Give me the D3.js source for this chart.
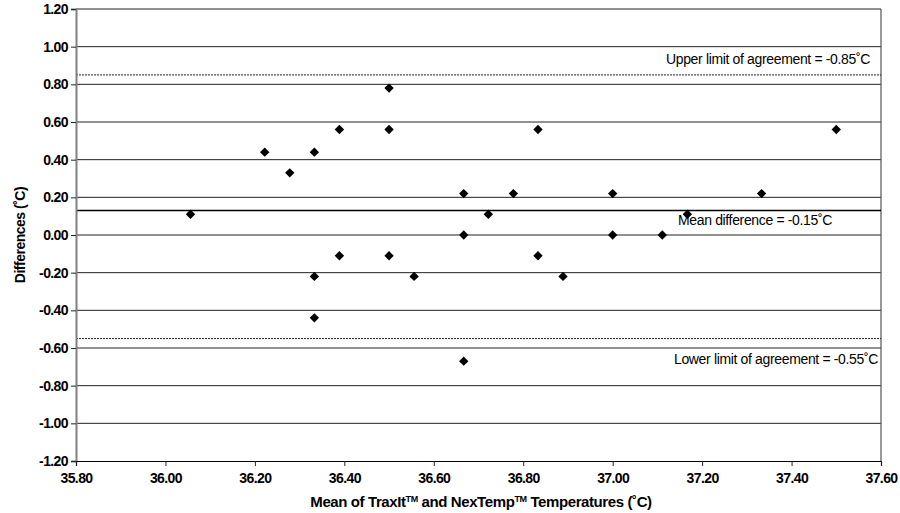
<!DOCTYPE html>
<html>
<head>
<meta charset="utf-8">
<script src="https://cdn.jsdelivr.net/npm/d3@7"></script>
<style>
  body { margin: 0; background: #fff; }
  text { font-family: "Liberation Sans", Arial, sans-serif; fill: #000; }
</style>
</head>
<body>
<div id="container"></div>
<script>
/* data */
const meanTemps = [36.056, 36.222, 36.278, 36.333, 36.333, 36.333, 36.389, 36.389, 36.5, 36.5, 36.5,
  36.556, 36.667, 36.667, 36.667, 36.722, 36.778, 36.833, 36.833, 36.889, 37.0, 37.0, 37.111,
  37.167, 37.333, 37.5];
const differences = [0.11, 0.44, 0.33, 0.44, -0.22, -0.44, 0.56, -0.11, 0.78, 0.56, -0.11,
  -0.22, 0.22, 0.0, -0.67, 0.11, 0.22, 0.56, -0.11, -0.22, 0.22, 0.0, 0.0,
  0.11, 0.22, 0.56];
const xTicks = [35.8, 36.0, 36.2, 36.4, 36.6, 36.8, 37.0, 37.2, 37.4, 37.6];
const yTicks = [1.2, 1.0, 0.8, 0.6, 0.4, 0.2, 0.0, -0.2, -0.4, -0.6, -0.8, -1.0, -1.2];
const upperLimit = 0.85, meanDiff = 0.13, lowerLimit = -0.55;
const upperLabel = 'Upper limit of agreement = -0.85˚C';
const meanLabel = 'Mean difference = -0.15˚C';
const lowerLabel = 'Lower limit of agreement = -0.55˚C';

const W = 900, H = 513;
const margin = { top: 9, right: 19, bottom: 52, left: 76 };
const width = W - margin.left - margin.right,
  height = H - margin.top - margin.bottom;

const svg = d3.select('#container').append('svg')
  .attr('width', W).attr('height', H);
const g = svg.append('g').attr('transform', `translate(${margin.left},${margin.top})`);

const x = d3.scaleLinear().domain([35.8, 37.6]).range([0, width]);
const y = d3.scaleLinear().domain([-1.2, 1.2]).range([height, 0]);

// plain hyphen minus like the original
const fmt = d => d3.format('.2f')(d).replace('−', '-');

// gridlines
g.append('g').selectAll('line')
  .data(yTicks.filter(d => d > -1.2))
  .join('line')
  .attr('x1', 0).attr('x2', width)
  .attr('y1', d => y(d)).attr('y2', d => y(d))
  .attr('stroke', '#222').attr('stroke-width', 1);

// right border
g.append('line')
  .attr('x1', width).attr('x2', width).attr('y1', 0).attr('y2', height)
  .attr('stroke', '#555').attr('stroke-width', 1.2);

// limit lines
g.selectAll('.limit')
  .data([upperLimit, lowerLimit])
  .join('line')
  .attr('class', 'limit')
  .attr('x1', 0).attr('x2', width)
  .attr('y1', d => y(d)).attr('y2', d => y(d))
  .attr('stroke', '#222').attr('stroke-width', 1)
  .attr('stroke-dasharray', '2,1');

g.append('line')
  .attr('x1', 0).attr('x2', width)
  .attr('y1', y(meanDiff)).attr('y2', y(meanDiff))
  .attr('stroke', '#000').attr('stroke-width', 1.6);

// axes
const yAxis = g.append('g')
  .call(d3.axisLeft(y).tickValues(yTicks).tickFormat(fmt).tickSize(5).tickPadding(3));
yAxis.select('.domain').attr('stroke', '#808080').attr('stroke-width', 2);
yAxis.selectAll('.tick line').attr('stroke', '#222');
yAxis.selectAll('text').attr('font-size', 14).attr('font-weight', 'bold')
  .attr('letter-spacing', -0.6).style('font-family', '"Liberation Sans", Arial, sans-serif');

const xAxis = g.append('g').attr('transform', `translate(0,${height})`)
  .call(d3.axisBottom(x).tickValues(xTicks).tickFormat(fmt).tickSize(5).tickPadding(7));
xAxis.select('.domain').attr('stroke', '#000').attr('stroke-width', 1.2);
xAxis.selectAll('.tick line').attr('stroke', '#222');
xAxis.selectAll('text').attr('font-size', 14).attr('font-weight', 'bold')
  .attr('letter-spacing', -0.6).style('font-family', '"Liberation Sans", Arial, sans-serif');

// labels for the limit lines
const labelSize = 14, labelSpacing = -0.35;
g.append('text').attr('x', 794).attr('y', y(upperLimit) - 11)
  .attr('text-anchor', 'end').attr('font-size', labelSize).attr('letter-spacing', labelSpacing)
  .text(upperLabel);
g.append('text').attr('x', 756).attr('y', y(meanDiff) + 14)
  .attr('text-anchor', 'end').attr('font-size', labelSize).attr('letter-spacing', labelSpacing)
  .text(meanLabel);
g.append('text').attr('x', 802).attr('y', y(lowerLimit) + 25)
  .attr('text-anchor', 'end').attr('font-size', labelSize).attr('letter-spacing', labelSpacing)
  .text(lowerLabel);

// points
const points = meanTemps.map((m, i) => ({ m, d: differences[i] }));
g.append('g').selectAll('path')
  .data(points)
  .join('path')
  .attr('d', d3.symbol(d3.symbolSquare, 44))
  .attr('transform', p => `translate(${x(p.m)},${y(p.d)}) rotate(45)`)
  .attr('fill', '#000');

// axis titles
const xt = svg.append('text')
  .attr('x', 481).attr('y', 507)
  .attr('text-anchor', 'middle').attr('font-size', 15).attr('font-weight', 'bold')
  .attr('letter-spacing', -0.4);
xt.append('tspan').text('Mean of TraxIt');
xt.append('tspan').attr('dy', -5).attr('font-size', 9).text('TM');
xt.append('tspan').attr('dy', 5).text(' and NexTemp');
xt.append('tspan').attr('dy', -5).attr('font-size', 9).text('TM');
xt.append('tspan').attr('dy', 5).text(' Temperatures (˚C)');

svg.append('text')
  .attr('transform', `translate(25,${margin.top + y(0)}) rotate(-90)`)
  .attr('text-anchor', 'middle').attr('font-size', 14).attr('font-weight', 'bold')
  .attr('letter-spacing', -0.5)
  .text('Differences (˚C)');
</script>
</body>
</html>
